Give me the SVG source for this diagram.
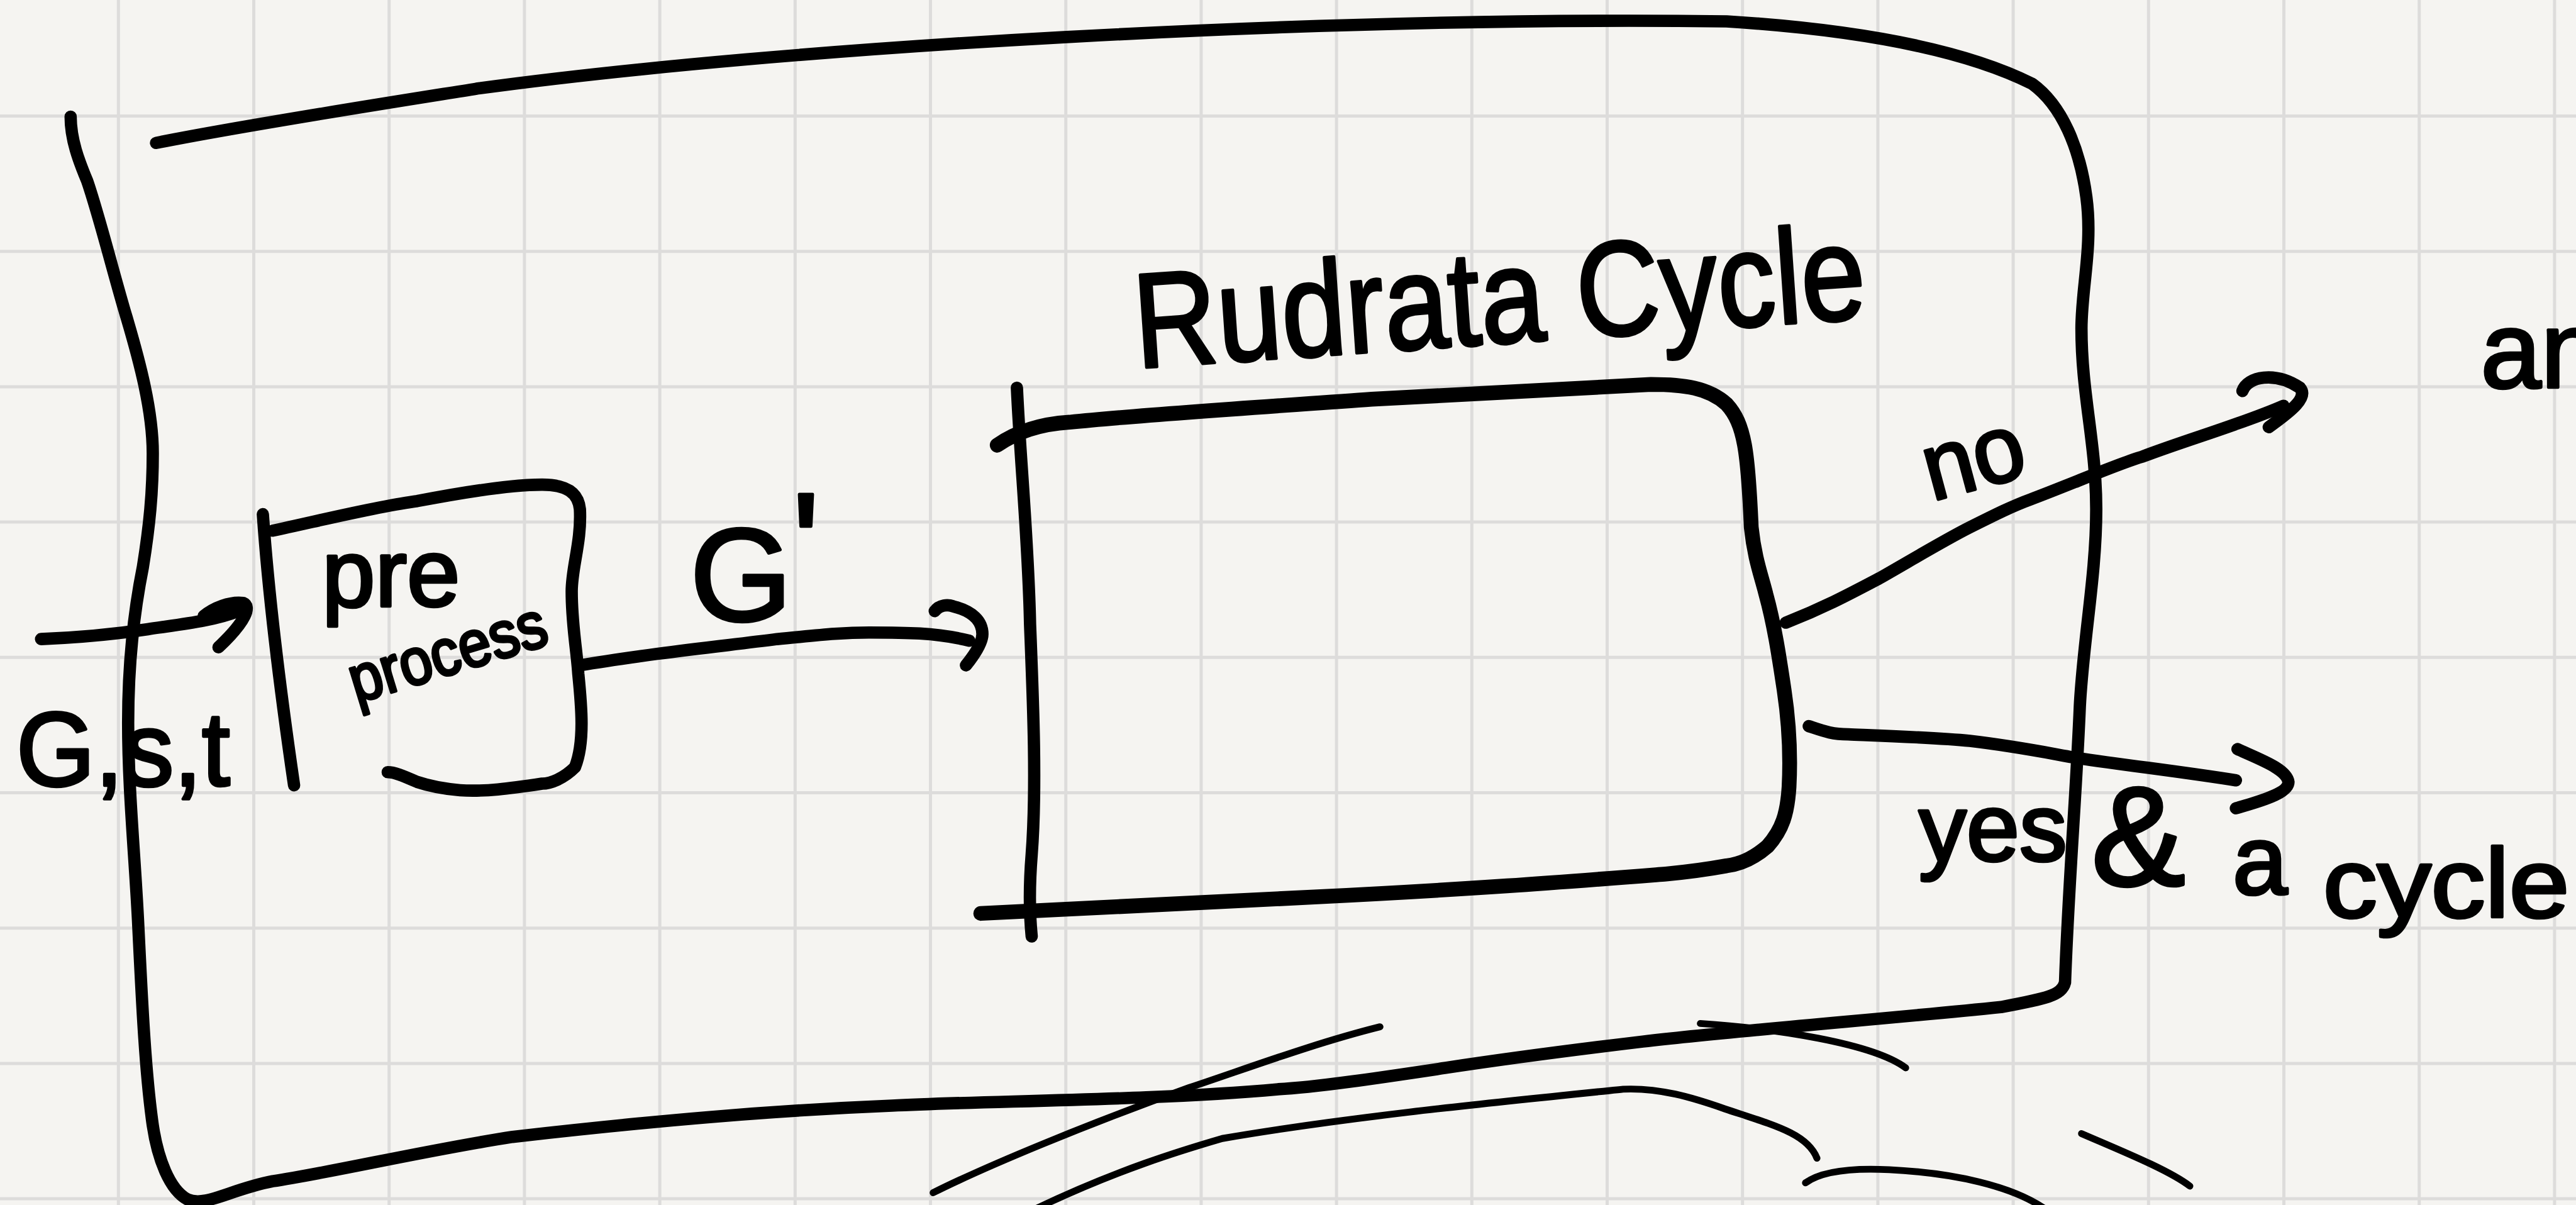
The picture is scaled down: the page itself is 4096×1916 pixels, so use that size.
<svg xmlns="http://www.w3.org/2000/svg" width="4096" height="1916" viewBox="0 0 4096 1916">
<style>
.paper{fill:#f5f4f1}
.grid{fill:none;stroke:#dddcdb;stroke-width:5}
.ink{fill:none;stroke:#000;stroke-linecap:round;stroke-linejoin:round;stroke-width:7.5}
.thick{stroke-width:9}
.thin{stroke-width:4.2}
.hw{font-family:"Liberation Sans",Arial,sans-serif;fill:#000;stroke:#000;stroke-width:1.8;stroke-linejoin:round;paint-order:stroke}
</style>
<rect class="paper" x="0" y="0" width="4096" height="1916"/>
<path class="grid" d="M188.3,0V1916M403.5,0V1916M618.7,0V1916M833.9,0V1916M1049.1,0V1916M1264.3,0V1916M1479.5,0V1916M1694.7,0V1916M1909.9,0V1916M2125.1,0V1916M2340.3,0V1916M2555.5,0V1916M2770.7,0V1916M2985.9,0V1916M3201.1,0V1916M3416.3,0V1916M3631.5,0V1916M3846.7,0V1916M4061.9,0V1916M0,184.5H4096M0,399.7H4096M0,614.9H4096M0,830.1H4096M0,1045.3H4096M0,1260.5H4096M0,1475.7H4096M0,1690.9H4096M0,1906.1H4096"/>
<g transform="scale(2.6122)">
<g id="outer-box">
<path class="ink" d="M95,87 C150,76 240,62 290,54 C480,28 800,10 1051,13 C1130,18 1195,30 1237,51 C1255,64 1266,90 1270,120 C1274,150 1267,175 1267,200 C1267,240 1276,270 1276,310 C1276,350 1268,390 1266,430 C1264,480 1259,540 1257,598 C1255,606 1245,608 1218,613 C1150,620 1060,627 1000,634 C950,640 913,645 880,650 C840,656 800,662 778,663 C700,670 600,670 543,673 C470,676 400,682 312,692 C260,700 200,714 166,719 C140,724 125,735 114,730 C103,724 96,705 93,685 C88,650 86,600 84,560 C82,520 78,480 78,440 C78,400 82,370 87,345 C91,320 93,300 93,276 C93,250 85,220 77,193 C70,170 60,130 53,110 C48,98 43,85 43,71"/>
</g>
<g id="preprocess">
<path class="ink" d="M160,313 C164,370 172,430 179,478"/>
<path class="ink" d="M166,323 C190,318 230,308 254,305 C280,300 310,295 330,295 C345,295 352,300 353,310 C354,330 348,345 348,360 C348,380 351,395 352,410 C354,430 356,452 350,467 C343,474 335,477 330,477 C310,480 295,482 280,481 C268,480 260,478 254,476 C245,472 240,470 236,470"/>
<text class="hw" x="196" y="369" font-size="58" textLength="84" lengthAdjust="spacingAndGlyphs">pre</text>
<text class="hw" x="217" y="428" font-size="40" textLength="124" lengthAdjust="spacingAndGlyphs" transform="rotate(-17 217 428)">process</text>
</g>
<g id="rudrata-cycle">
<path class="ink" d="M619,236 C621,280 626,330 627,380 C629,430 631,480 628,520 C626,545 627,560 628,570"/>
<path class="ink thick" d="M607,271 C620,262 635,258 651,257 C700,252 780,247 835,243 C900,240 960,236 1005,234 C1025,234 1040,236 1051,246 C1062,258 1064,275 1066,321 C1068,340 1072,350 1075,362 C1080,380 1083,400 1086,420 C1089,440 1090,460 1089,479 C1088,495 1085,505 1076,515 C1068,522 1060,526 1051,527 C1040,529 1025,531 1014,532 C950,537 900,541 800,546 C720,550 650,553 597,556"/>
<text class="hw" x="692" y="224" font-size="82" textLength="446" lengthAdjust="spacingAndGlyphs" transform="rotate(-3.9 692 224)">Rudrata Cycle</text>
</g>
<g id="connectors">
<path class="ink" d="M25,389 C50,388 70,386 90,383 C110,380 130,378 145,372"/>
<path class="ink" d="M124,375 C130,370 140,366 148,367 C153,369 150,378 133,394"/>
<path class="ink" d="M353,405 C370,402 385,400 400,398 C430,394 450,392 473,389 C495,387 510,385 529,385 C550,385 570,385 590,390"/>
<path class="ink" d="M569,372 C572,368 577,368 580,369 C592,372 598,378 598,386 C598,392 592,400 588,405"/>
<path class="ink" d="M1087,379 C1110,370 1125,362 1144,352 C1165,340 1185,328 1199,321 C1215,313 1225,308 1236,304 C1260,295 1290,282 1304,278 C1330,268 1365,258 1390,247"/>
<path class="ink" d="M1365,238 C1368,229 1385,226 1400,236 C1405,242 1395,250 1381,260"/>
<path class="ink" d="M1101,442 C1110,445 1115,447 1125,447 C1150,448 1180,449 1199,451 C1225,454 1245,458 1262,461 C1295,466 1330,470 1361,475"/>
<path class="ink" d="M1362,456 C1375,462 1392,468 1393,476 C1393,483 1375,488 1361,492"/>
</g>
<g id="labels">
<text class="hw" x="10" y="478" font-size="64" textLength="130" lengthAdjust="spacingAndGlyphs">G,s,t</text>
<text class="hw" x="420" y="378" font-size="80">G<tspan x="482" y="363" font-size="90">'</tspan></text>
<text class="hw" x="1176" y="305" font-size="58" textLength="62" lengthAdjust="spacingAndGlyphs" transform="rotate(-15 1176 305)">no</text>
<text class="hw" font-size="58"><tspan x="1168" y="524">yes</tspan><tspan x="1273" y="539" font-size="86">&amp;</tspan><tspan x="1359" y="544" font-size="60">a</tspan><tspan x="1414" y="558" font-size="60" textLength="150" lengthAdjust="spacingAndGlyphs">cycle</tspan></text>
<text class="hw" x="1510" y="236" font-size="66">an</text>
</g>
<g id="scribbles">
<path class="ink thin" d="M1035,623 C1080,626 1140,635 1160,650"/>
<path class="ink thin" d="M840,625 C800,635 760,650 724,662 C660,685 600,710 568,726"/>
<path class="ink thin" d="M630,736 C680,712 720,700 744,693 C820,680 900,672 988,663 C1010,662 1030,668 1050,675 C1080,685 1100,690 1106,705"/>
<path class="ink thin" d="M1099,720 C1110,712 1130,711 1150,712 C1190,714 1225,722 1245,736"/>
<path class="ink thin" d="M1267,690 C1290,700 1320,712 1333,722"/>
</g>
</g>
</svg>
